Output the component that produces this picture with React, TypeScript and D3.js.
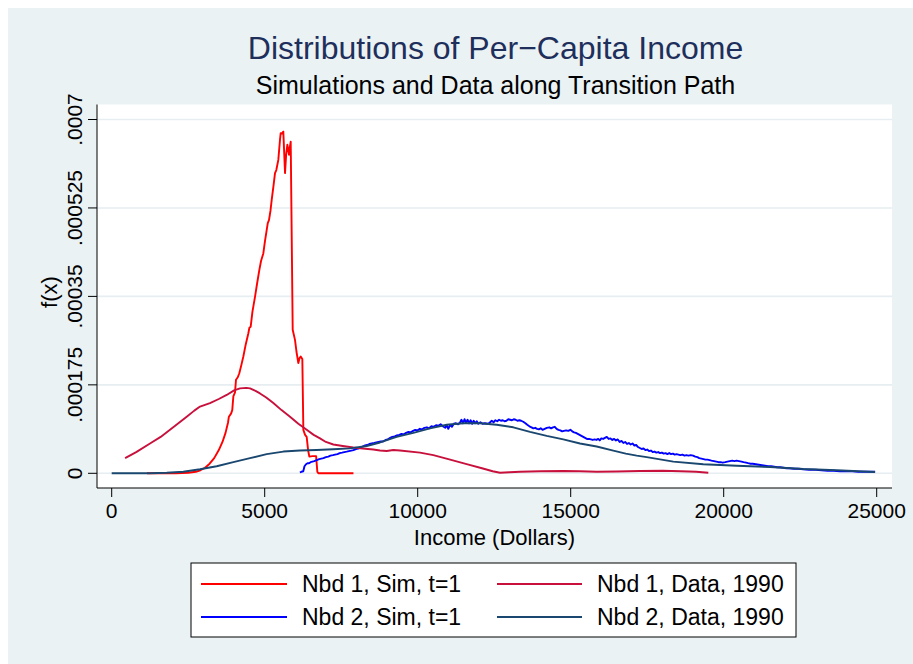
import React from "react";
import * as d3 from "d3";

// x: income in dollars, y: density in units of 1e-6
const nbd1Sim: [number, number][] = [
  [1150, 0], [1600, 0], [2100, 0], [2500, 1], [2750, 3], [2900, 6], [3050, 11], [3200, 19],
  [3350, 30], [3500, 46], [3620, 62], [3720, 80], [3800, 100], [3830, 112], [3900, 118],
  [3940, 125], [3975, 152], [4030, 160], [4062, 185], [4120, 190], [4170, 198], [4240, 215],
  [4302, 231], [4380, 255], [4466, 277], [4500, 288], [4542, 290], [4600, 320], [4683, 349],
  [4750, 375], [4824, 402], [4880, 420], [4955, 435], [5010, 460], [5065, 481], [5100, 495],
  [5140, 501], [5190, 520], [5229, 541], [5290, 570], [5337, 594], [5380, 600], [5445, 620],
  [5500, 660], [5523, 673], [5560, 672], [5608, 676], [5640, 630], [5664, 594], [5700, 630],
  [5740, 650], [5770, 640], [5795, 630], [5820, 645], [5850, 656], [5915, 284], [5990, 264],
  [6040, 240], [6099, 218], [6140, 228], [6176, 231], [6230, 226], [6263, 86], [6320, 76],
  [6372, 72], [6420, 45], [6459, 33], [6560, 34], [6680, 34], [6720, 3], [6760, 0],
  [7000, 0], [7400, 0], [7900, 0],
];

const nbd2Sim: [number, number][] = [
  [6150, 2], [6200, 3], [6260, 4], [6300, 14], [6350, 18], [6400, 20], [6450, 20], [6500, 22],
  [6560, 23], [6620, 24], [6700, 26], [6780, 28], [6850, 29], [6920, 30], [7000, 32], [7080, 33],
  [7150, 35], [7230, 36], [7300, 37], [7380, 38], [7450, 40], [7530, 41], [7600, 42], [7680, 43],
  [7750, 44], [7830, 45], [7900, 46], [7980, 48], [8050, 49], [8130, 51], [8200, 53], [8280, 55],
  [8350, 56], [8420, 58], [8500, 59], [8580, 60], [8650, 61], [8720, 62], [8800, 63], [8870, 63],
  [8950, 66], [9020, 67], [9100, 70], [9170, 72], [9250, 73], [9320, 75], [9400, 76], [9470, 78],
  [9550, 77], [9620, 80], [9700, 82], [9770, 81], [9850, 84], [9920, 86], [10000, 85], [10070, 88],
  [10150, 87], [10220, 90], [10300, 91], [10370, 89], [10450, 93], [10520, 92], [10600, 95],
  [10670, 94], [10750, 97], [10820, 93], [10900, 90], [10950, 95], [11000, 88], [11060, 96],
  [11120, 92], [11180, 98], [11250, 99], [11320, 97], [11380, 100], [11430, 106], [11480, 99],
  [11530, 107], [11580, 100], [11630, 106], [11680, 99], [11730, 105], [11780, 98], [11830, 104],
  [11880, 99], [11930, 103], [11980, 98], [12050, 101], [12120, 98], [12200, 99], [12280, 98],
  [12350, 100], [12420, 104], [12480, 101], [12540, 105], [12600, 103], [12660, 106], [12720, 104],
  [12780, 105], [12840, 103], [12900, 104], [12960, 107], [13020, 106], [13080, 105], [13140, 107],
  [13200, 106], [13260, 104], [13320, 105], [13380, 104], [13450, 102], [13520, 99], [13580, 96],
  [13650, 93], [13720, 91], [13780, 89], [13840, 90], [13900, 88], [13960, 87], [14020, 89],
  [14080, 86], [14150, 88], [14220, 90], [14300, 91], [14360, 89], [14420, 91], [14480, 92],
  [14540, 88], [14600, 86], [14660, 85], [14720, 83], [14780, 84], [14850, 85], [14920, 84],
  [14990, 86], [15050, 83], [15110, 81], [15170, 80], [15230, 78], [15290, 76], [15350, 74],
  [15410, 72], [15470, 70], [15530, 68], [15600, 68], [15660, 67], [15720, 66], [15780, 67],
  [15840, 66], [15900, 68], [15950, 65], [16000, 69], [16060, 68], [16120, 70], [16180, 72],
  [16240, 68], [16300, 69], [16360, 66], [16420, 68], [16480, 65], [16540, 67], [16600, 62],
  [16660, 64], [16720, 60], [16780, 62], [16840, 58], [16900, 60], [16960, 57], [17020, 59],
  [17080, 55], [17140, 56], [17200, 52], [17260, 50], [17320, 48], [17380, 49], [17440, 46],
  [17500, 47], [17560, 44], [17620, 45], [17680, 42], [17740, 43], [17800, 41], [17860, 42],
  [17920, 40], [17980, 41], [18040, 39], [18100, 40], [18160, 38], [18220, 40], [18280, 38],
  [18340, 39], [18400, 37], [18460, 38], [18520, 37], [18580, 36], [18650, 37], [18720, 35],
  [18780, 36], [18850, 35], [18920, 36], [19000, 35], [19070, 33], [19140, 32], [19200, 30],
  [19270, 29], [19340, 28], [19400, 27], [19470, 27], [19540, 26], [19600, 25], [19680, 24],
  [19760, 23], [19830, 22], [19900, 22], [19970, 21], [20050, 22], [20120, 23], [20200, 24],
  [20280, 25], [20350, 24], [20420, 25], [20500, 24], [20580, 23], [20650, 22], [20730, 21],
  [20800, 20], [20880, 19], [20950, 19], [21050, 18], [21150, 17], [21250, 16], [21350, 15],
  [21450, 14], [21550, 14], [21650, 13], [21750, 12], [21850, 12], [21950, 11], [22050, 10],
  [22150, 10], [22300, 9], [22450, 9], [22600, 8], [22800, 7], [23000, 7], [23200, 6],
  [23400, 5], [23600, 5], [23800, 4], [24000, 4], [24200, 4], [24400, 3], [24600, 3],
  [24800, 3], [24950, 3],
];

const nbd1Data: [number, number][] = [
  [438, 30], [800, 42], [1252, 59], [1600, 72], [1905, 86], [2200, 100], [2451, 112], [2700, 124],
  [2886, 132], [3212, 139], [3500, 147], [3758, 155], [4000, 164], [4193, 168], [4400, 169],
  [4520, 168], [4700, 163], [4846, 158], [5050, 150], [5282, 139], [5550, 125], [5827, 112],
  [6100, 98], [6372, 86], [6600, 76], [6807, 69], [7000, 62], [7243, 57], [7550, 54], [7896, 51],
  [8200, 49], [8549, 47], [8768, 45], [8987, 44], [9203, 46], [9422, 45], [10075, 41],
  [10511, 36], [11000, 28], [11600, 18], [12100, 10], [12450, 4], [12690, 1], [13000, 2],
  [13343, 3], [14000, 4], [14758, 4.5], [15300, 4], [15850, 3], [16500, 3.5], [17265, 4.5],
  [18000, 5], [18600, 4], [19100, 3], [19497, 1],
];

const nbd2Data: [number, number][] = [
  [0, 0], [1252, 0], [1800, 1], [2340, 3], [2886, 8], [3431, 14], [3975, 22], [4520, 30],
  [5065, 38], [5609, 43], [6154, 45], [6699, 46], [7243, 47.5], [7788, 49.4], [8333, 54],
  [8768, 61], [9313, 72], [9856, 80], [10402, 89], [10948, 96], [11490, 99], [12036, 99],
  [12582, 96], [13124, 91], [13670, 82], [14216, 74], [14758, 67], [15304, 59], [15850, 53],
  [16392, 45], [16800, 39], [17157, 35], [17484, 32], [18353, 23], [19333, 18], [20425, 15],
  [21513, 12.5], [22601, 8.5], [23693, 6], [24944, 2.6],
];

const xTicks = [0, 5000, 10000, 15000, 20000, 25000];
const yTicks = [0, 175, 350, 525, 700];
const yTickLabels = ["0", ".000175", ".00035", ".000525", ".0007"];

const seriesNames = ["Nbd 1, Sim, t=1", "Nbd 1, Data, 1990", "Nbd 2, Sim, t=1", "Nbd 2, Data, 1990"];
const seriesColors = ["#ff0000", "#c8103c", "#0000ff", "#1a476f"];

const FONT = "'Liberation Sans', Arial, Helvetica, sans-serif";

export default function App() {
  const W = 913, H = 664;
  const plot = { left: 97, right: 892, top: 104.5, bottom: 488 };
  const x = d3.scaleLinear().domain([0, 25000]).range([111.7, 876.7]);
  const y = d3.scaleLinear().domain([0, 700]).range([473.3, 119.5]);
  const line = d3.line<[number, number]>().x((d) => x(d[0])).y((d) => y(d[1]));
  const seriesData = [nbd1Sim, nbd1Data, nbd2Sim, nbd2Data];
  const drawOrder = [0, 2, 1, 3];

  const legendCols = [
    { lx1: 201, lx2: 287, tx: 302 },
    { lx1: 497, lx2: 582, tx: 597 },
  ];
  const legendRows = [584, 617];

  return (
    <svg width={W} height={H} style={{ position: "absolute", left: 0, top: 0, display: "block" }} fontFamily={FONT}>
      <rect x={0} y={0} width={W} height={H} fill="#ffffff" />
      <rect x={8} y={8} width={W - 8} height={H - 8} fill="#eaf2f3" />
      <rect x={plot.left} y={plot.top} width={plot.right - plot.left} height={plot.bottom - plot.top} fill="#ffffff" />
      {yTicks.map((t) => (
        <line key={"g" + t} x1={plot.left} x2={plot.right} y1={y(t)} y2={y(t)} stroke="#e6eef1" strokeWidth={1.6} />
      ))}
      {drawOrder.map((i) => (
        <path key={"s" + i} d={line(seriesData[i]) || ""} fill="none" stroke={seriesColors[i]} strokeWidth={1.9} strokeLinejoin="round" />
      ))}
      {/* axes */}
      <line x1={plot.left} x2={plot.left} y1={plot.top} y2={plot.bottom} stroke="#000" strokeWidth={1} />
      <line x1={plot.left} x2={plot.right} y1={plot.bottom} y2={plot.bottom} stroke="#000" strokeWidth={1} />
      {yTicks.map((t, i) => (
        <g key={"yt" + t}>
          <line x1={88} x2={plot.left} y1={y(t)} y2={y(t)} stroke="#000" strokeWidth={1} />
          <text transform={`translate(82,${y(t)}) rotate(-90)`} textAnchor="middle" fontSize={21} fill="#000">
            {yTickLabels[i]}
          </text>
        </g>
      ))}
      {xTicks.map((t) => (
        <g key={"xt" + t}>
          <line x1={x(t)} x2={x(t)} y1={plot.bottom} y2={497} stroke="#000" strokeWidth={1} />
          <text x={x(t)} y={518} textAnchor="middle" fontSize={21} fill="#000">
            {t}
          </text>
        </g>
      ))}
      <text x={(plot.left + plot.right) / 2} y={545} textAnchor="middle" fontSize={22} fill="#000">
        Income (Dollars)
      </text>
      <text transform={`translate(57,292) rotate(-90)`} textAnchor="middle" fontSize={22} fill="#000">
        f(x)
      </text>
      {/* titles */}
      <text x={495.5} y={59} textAnchor="middle" fontSize={32} fill="#1e2f5c">
        Distributions of Per−Capita Income
      </text>
      <text x={495.5} y={94} textAnchor="middle" fontSize={25} fill="#000">
        Simulations and Data along Transition Path
      </text>
      {/* legend */}
      <rect x={191} y={563} width={605} height={74} fill="#ffffff" stroke="#000" strokeWidth={1} />
      {seriesNames.map((name, i) => {
        const col = legendCols[i % 2];
        const row = legendRows[Math.floor(i / 2)];
        return (
          <g key={"lg" + i}>
            <line x1={col.lx1} x2={col.lx2} y1={row} y2={row} stroke={seriesColors[i]} strokeWidth={2} />
            <text x={col.tx} y={row + 8} fontSize={23} fill="#000">
              {name}
            </text>
          </g>
        );
      })}
    </svg>
  );
}
